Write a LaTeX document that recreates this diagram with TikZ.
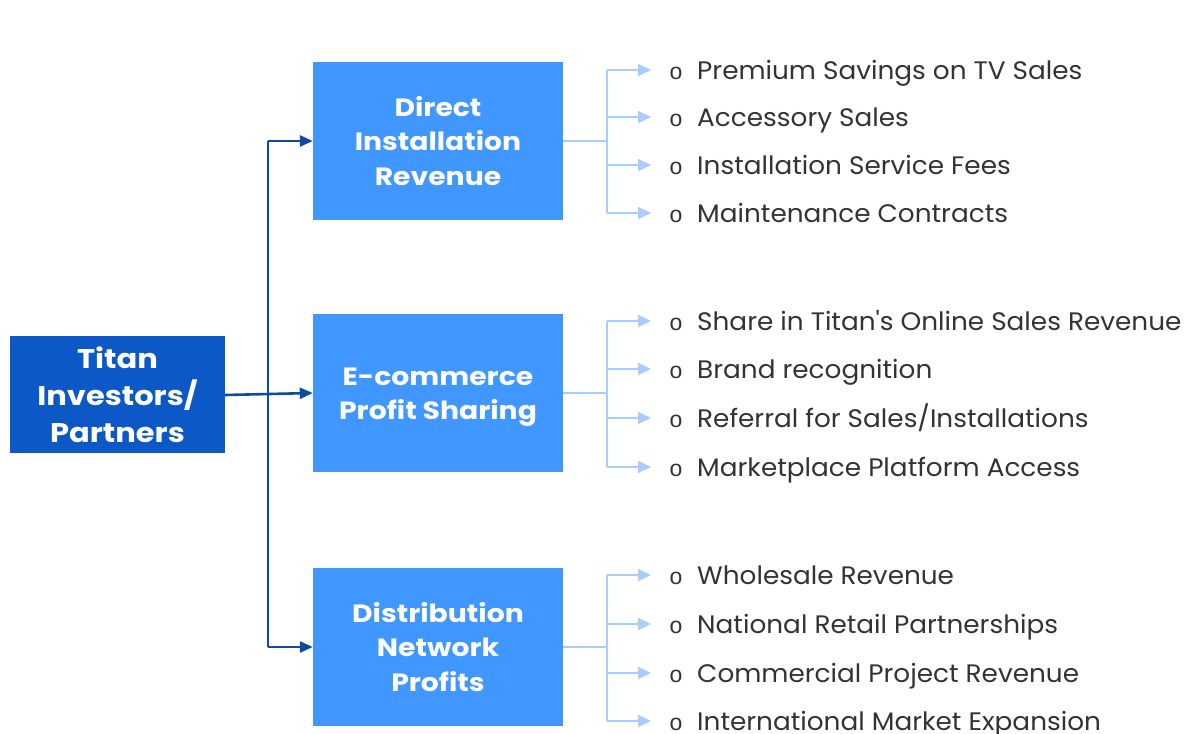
\documentclass[tikz,border=0pt]{standalone}
\usepackage{fontspec}
\setmainfont{Poppins}
\newfontfamily\listfont[FakeStretch=1.04]{Poppins}
\newfontfamily\boxfont[FakeStretch=1.13]{Poppins}
\newfontfamily\bulletfont{Liberation Sans}
\usetikzlibrary{arrows.meta,calc}
\definecolor{darkbox}{HTML}{0C58C6}
\definecolor{midbox}{HTML}{3F97FF}
\definecolor{trunk}{HTML}{0D4AA6}
\definecolor{lightln}{HTML}{AACDFF}
\definecolor{txt}{HTML}{333333}
\tikzset{
  rootbox/.style={fill=darkbox, draw=none, minimum width=215pt, minimum height=117pt, text=white, font=\boxfont\fontsize{27}{37}\selectfont\bfseries, align=center, inner sep=0pt},
  catbox/.style={fill=midbox, draw=none, minimum width=250pt, minimum height=158pt, text=white, font=\boxfont\fontsize{25}{34.5}\selectfont\bfseries, align=center, inner sep=0pt},
  boxtext/.style={text=white, font=\boxfont\fontsize{25}{34.5}\selectfont\bfseries, align=center, inner sep=0pt},
  mainarrow/.style={draw=trunk, line width=2.6pt, -{Triangle[length=13pt,width=11pt]}},
  mainline/.style={draw=trunk, line width=2.6pt},
  subline/.style={draw=lightln, line width=1.8pt},
  subarrow/.style={draw=lightln, line width=1.8pt, -{Triangle[length=13pt,width=12pt]}},
  itemtxt/.style={anchor=base west, text=txt, font=\listfont\fontsize{25.3}{30}\selectfont, inner sep=0pt},
  bullettxt/.style={anchor=base, text=txt, font=\bulletfont\fontsize{23}{26}\selectfont, inner sep=0pt}
}
\begin{document}
\begin{tikzpicture}[x=1pt,y=-1pt]
\useasboundingbox (0,0) rectangle (1195,734);
\node[rootbox] (root) at (117.5,394.5) {Titan\\Investors/\\Partners};
\node[catbox] (c1) at (438,141) {Direct\\Installation\\Revenue};
\node[catbox] (c2) at (438,393) {};
\node[boxtext] (c2t) at ([yshift=-4pt]c2.center) {E-commerce\\Profit Sharing};
\node[catbox] (c3) at (438,647) {Distribution\\Network\\Profits};
% main connectors
\coordinate (t1) at (268,141);
\coordinate (t3) at (268,647);
\coordinate (tm) at (268,395);
\draw[mainline] (t1) -- (t3);
\draw[mainarrow] (root.east |- tm) -- (c2.west);
\draw[mainarrow] (t1) -- (c1.west |- t1);
\draw[mainarrow] (t3) -- (c3.west |- t3);
% sub items
\foreach \c/\ya/\yb/\yc/\yd/\ta/\tb/\tc/\td in {
  c1/70/117/165/213/{Premium Savings on TV Sales}/{Accessory Sales}/{Installation Service Fees}/{Maintenance Contracts},
  c2/321/369/418/467/{Share in Titan's Online Sales Revenue}/{Brand recognition}/{Referral for Sales/Installations}/{Marketplace Platform Access},
  c3/575/624/673/721/{Wholesale Revenue}/{National Retail Partnerships}/{Commercial Project Revenue}/{International Market Expansion}} {
  \coordinate (\c-j) at ($(\c.east)+(44,0)$);
  \coordinate (\c-top) at (607,\ya);
  \coordinate (\c-bot) at (607,\yd);
  \draw[subline] (\c.east) -- (\c-j);
  \draw[subline] (\c-top) -- (\c-bot);
  \foreach \yy/\tt [count=\i] in {\ya/\ta,\yb/\tb,\yc/\tc,\yd/\td} {
    \coordinate (\c-s\i) at (607,\yy);
    \node[bullettxt] (\c-b\i) at (676,\yy+9) {o};
    \node[itemtxt] (\c-i\i) at (697,\yy+9.5) {\tt};
    \draw[subarrow] (\c-s\i) -- (651,\yy);
  }
}
\end{tikzpicture}
\end{document}
